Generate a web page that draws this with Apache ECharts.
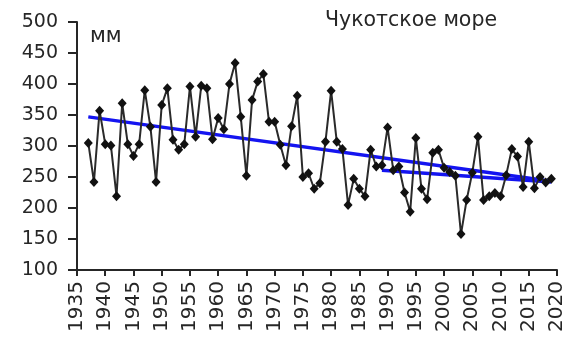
<!DOCTYPE html>
<html>
<head>
<meta charset="utf-8">
<script src="https://cdn.jsdelivr.net/npm/echarts@6/dist/echarts.min.js"></script>
<style>
  html, body { margin: 0; padding: 0; background: #fff; }
  #chart { width: 568px; height: 340px; }
</style>
</head>
<body>
<div id="chart"></div>
<script>
// Annual values, Chukchi Sea (mm)
const years = [
  1937, 1938, 1939, 1940, 1941, 1942, 1943, 1944, 1945, 1946,
  1947, 1948, 1949, 1950, 1951, 1952, 1953, 1954, 1955, 1956,
  1957, 1958, 1959, 1960, 1961, 1962, 1963, 1964, 1965, 1966,
  1967, 1968, 1969, 1970, 1971, 1972, 1973, 1974, 1975, 1976,
  1977, 1978, 1979, 1980, 1981, 1982, 1983, 1984, 1985, 1986,
  1987, 1988, 1989, 1990, 1991, 1992, 1993, 1994, 1995, 1996,
  1997, 1998, 1999, 2000, 2001, 2002, 2003, 2004, 2005, 2006,
  2007, 2008, 2009, 2010, 2011, 2012, 2013, 2014, 2015, 2016,
  2017, 2018, 2019
];
const values = [
  305, 242, 357, 303, 301, 219, 369, 303, 284, 303,
  390, 331, 242, 366, 393, 310, 294, 303, 396, 315,
  397, 393, 311, 345, 327, 400, 434, 347, 252, 374,
  404, 416, 339, 339, 302, 269, 332, 381, 250, 256,
  231, 240, 307, 389, 307, 295, 205, 247, 231, 219,
  294, 267, 269, 330, 261, 267, 225, 194, 313, 231,
  214, 289, 294, 265, 258, 252, 158, 213, 257, 315,
  213, 219, 224, 219, 253, 295, 283, 234, 307, 232,
  250, 241, 247
];

// Linear trends: whole record and recent period
const trendYears = [1937, 2019];
const trendValues = [347, 243];
const recentTrendYears = [1989, 2019];
const recentTrendValues = [261, 242];

// Axis settings
const yTicks = { min: 100, max: 500, step: 50 };
const xTicks = { min: 1935, max: 2020, step: 5 };

const title = 'Чукотское море';
const unit = 'мм';

const zip = (xs, ys) => xs.map((x, i) => [x, ys[i]]);

const font = 'DejaVu Sans';
const ink = '#262626';
const chart = echarts.init(document.getElementById('chart'), null, { renderer: 'canvas' });

chart.setOption({
  animation: false,
  backgroundColor: '#ffffff',
  grid: { left: 77, right: 11, top: 22, bottom: 70, containLabel: false },
  graphic: [
    {
      type: 'text', left: 325, top: 10,
      style: { text: title, font: '20.5px "' + font + '"', fill: ink }
    },
    {
      type: 'text', left: 90, top: 26,
      style: { text: unit, font: '21px "' + font + '"', fill: ink }
    }
  ],
  xAxis: {
    type: 'value',
    min: xTicks.min, max: xTicks.max, interval: xTicks.step,
    splitLine: { show: false },
    axisLine: { show: true, onZero: false, lineStyle: { color: ink, width: 2 } },
    axisTick: { show: true, inside: false, length: 6, lineStyle: { color: ink, width: 2 } },
    axisLabel: {
      rotate: 90, margin: 11,
      fontFamily: font, fontSize: 20, color: ink,
      formatter: v => String(v)
    }
  },
  yAxis: {
    type: 'value',
    min: yTicks.min, max: yTicks.max, interval: yTicks.step,
    splitLine: { show: false },
    axisLine: { show: true, onZero: false, lineStyle: { color: ink, width: 2 } },
    axisTick: { show: true, inside: false, length: 9, lineStyle: { color: ink, width: 2 } },
    axisLabel: { margin: 19, fontFamily: font, fontSize: 19, color: ink }
  },
  series: [
    {
      type: 'line', z: 2,
      data: zip(trendYears, trendValues),
      symbol: 'none',
      lineStyle: { color: '#1414f0', width: 3.5 }
    },
    {
      type: 'line', z: 2,
      data: zip(recentTrendYears, recentTrendValues),
      symbol: 'none',
      lineStyle: { color: '#1414f0', width: 3.5 }
    },
    {
      type: 'line', z: 3,
      data: zip(years, values),
      symbol: 'diamond', symbolSize: [9, 10],
      itemStyle: { color: '#111' },
      lineStyle: { color: '#2a2a2a', width: 2 }
    }
  ]
});
</script>
</body>
</html>
